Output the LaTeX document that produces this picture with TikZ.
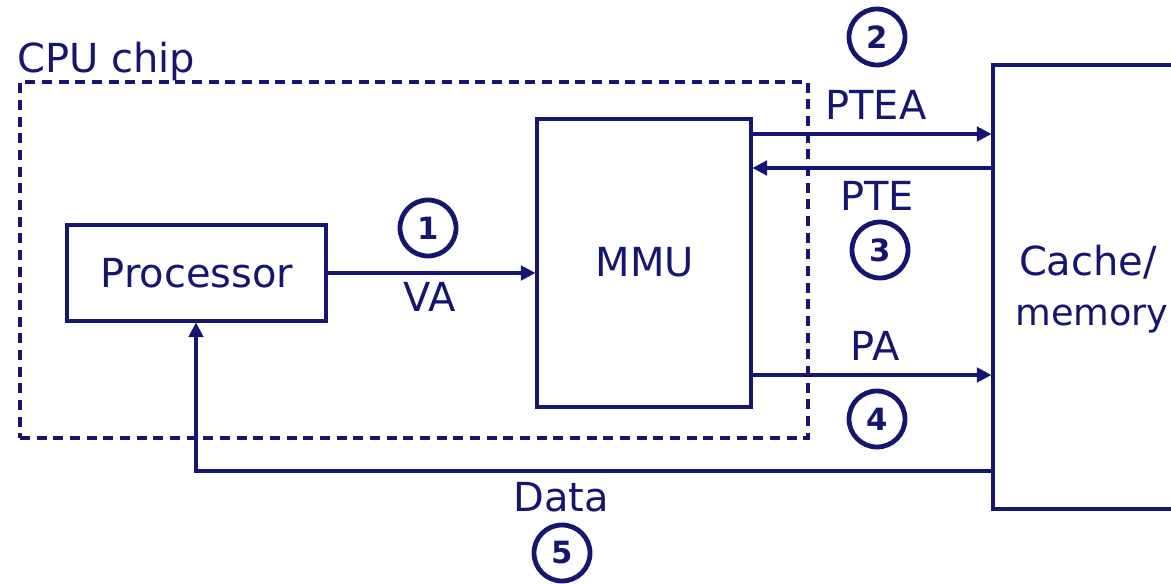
\documentclass[tikz,border=0pt]{standalone}
\usepackage{fontspec}
\setmainfont{DejaVu Sans}
\usetikzlibrary{arrows.meta}
\definecolor{ink}{RGB}{22,22,112}
\tikzset{
  box/.style={draw=ink, line width=2.3pt, inner sep=0pt},
  chipbox/.style={draw=ink, line width=2.3pt, dash pattern=on 7.5pt off 5pt, inner sep=0pt},
  lbl/.style={text=ink, font=\fontsize{30}{36}\selectfont, inner sep=0pt, anchor=base},
  num/.style={draw=ink, circle, line width=3.6pt, minimum size=42pt, inner sep=0pt, text=ink, font=\fontsize{23}{26}\selectfont\bfseries},
  arr/.style={draw=ink, line width=2.3pt, -{Triangle[length=11pt,width=11pt]}}
}
\begin{document}
\begin{tikzpicture}[x=0.75pt,y=-0.75pt]
\useasboundingbox (0,0) rectangle (1171,584);
% CPU chip
\node[chipbox, minimum width=591pt, minimum height=267pt] (chip) at (414,260) {};
\node[lbl, anchor=base west] (chiplbl) at (17,73) {CPU chip};
% boxes
\node[box, minimum width=194.25pt, minimum height=72pt] (proc) at (196.5,273) {};
\node[lbl] (proctxt) at (197,288) {Processor};
\node[box, minimum width=160.5pt, minimum height=216pt] (mmu) at (644,263) {};
\node[lbl] (mmutxt) at (645,277) {MMU};
\begin{scope}
\clip (0,0) rectangle (1171,584);
\node[box, minimum width=155.25pt, minimum height=333pt] (mem) at (1096.5,287) {};
\end{scope}
\node[lbl] (memA) at (1088,276) {Cache/};
\node[lbl, font=\fontsize{27.5}{33}\selectfont] (memB) at (1092,326) {memory};
% helper rows
\coordinate (rowptea) at (0,134);
\coordinate (rowpte) at (0,168);
\coordinate (rowpa) at (0,375);
\coordinate (rowdata) at (0,471);
\coordinate (coldata) at (196,0);
% connectors
\draw[arr] (proc.east) -- (mmu.west |- proc.east);
\draw[arr] (mmu.east |- rowptea) -- (mem.west |- rowptea);
\draw[arr] (mem.west |- rowpte) -- (mmu.east |- rowpte);
\draw[arr] (mmu.east |- rowpa) -- (mem.west |- rowpa);
\draw[arr] (mem.west |- rowdata) -- (coldata |- rowdata) -- (coldata |- proc.south);
% labels
\node[lbl] (va) at (430,312) {VA};
\node[lbl] (ptea) at (876,120) {PTEA};
\node[lbl] (pte) at (877,211) {PTE};
\node[lbl] (pa) at (875,361) {PA};
\node[lbl] (data) at (561,511) {Data};
% step numbers
\node[num] (n1) at (428,228) {1};
\node[num] (n2) at (877,37) {2};
\node[num] (n3) at (880,250) {3};
\node[num] (n4) at (877,419) {4};
\node[num] (n5) at (562,553) {5};
\end{tikzpicture}
\end{document}
